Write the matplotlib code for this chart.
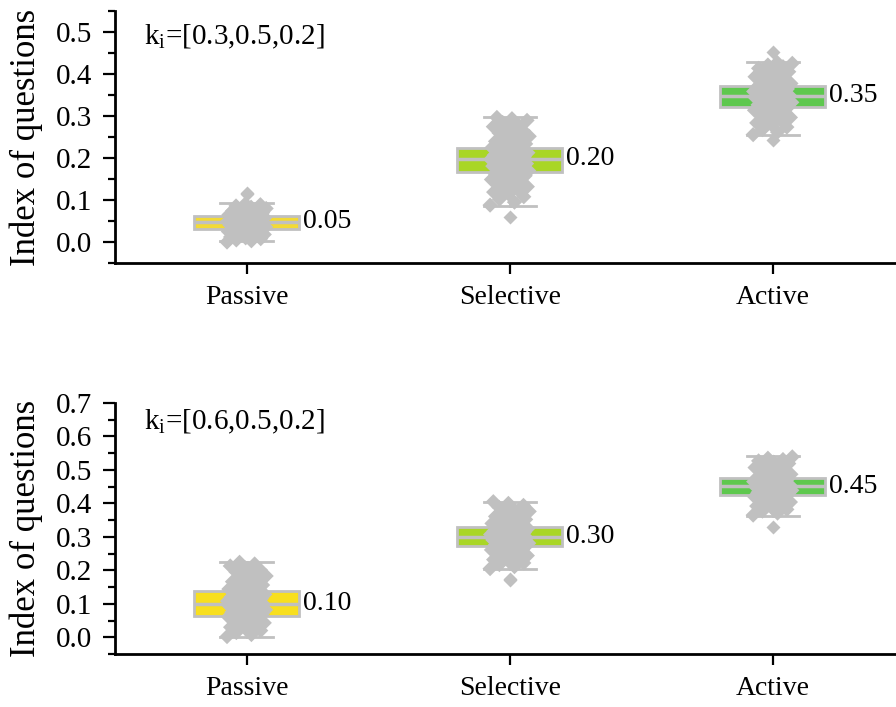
import matplotlib
matplotlib.use('Agg')
import matplotlib.pyplot as plt
import numpy as np
from matplotlib.ticker import MultipleLocator, FormatStrFormatter

plt.rcParams['font.family'] = ['Liberation Serif', 'DejaVu Serif']
plt.rcParams['mathtext.fontset'] = 'custom'
plt.rcParams['mathtext.rm'] = 'Liberation Serif'
plt.rcParams['mathtext.it'] = 'Liberation Serif:italic'

categories = ['Passive', 'Selective', 'Active']
median_labels_top = ['0.05', '0.20', '0.35']
median_labels_bot = ['0.10', '0.30', '0.45']
k_top = 'k$_\\mathregular{i}$=[0.3,0.5,0.2]'
k_bot = 'k$_\\mathregular{i}$=[0.6,0.5,0.2]'

# box statistics: q1, median, q3, lower whisker, upper whisker
q1_top = [0.031, 0.168, 0.322]
med_top = [0.047, 0.197, 0.348]
q3_top = [0.062, 0.225, 0.372]
wlo_top = [0.002, 0.085, 0.254]
whi_top = [0.092, 0.298, 0.429]
fliers_top = [[0.115, 0.118], [0.059], [0.453, 0.244]]

q1_bot = [0.064, 0.273, 0.425]
med_bot = [0.098, 0.300, 0.452]
q3_bot = [0.139, 0.330, 0.476]
wlo_bot = [0.002, 0.204, 0.363]
whi_bot = [0.226, 0.405, 0.541]
fliers_bot = [[], [0.171, 0.175], [0.328]]

# individual questions (grey points)
pts_passive_top = [0.000, 0.003, 0.005, 0.008, 0.010, 0.012, 0.014, 0.016, 0.018, 0.019,
                   0.021, 0.022, 0.024, 0.025, 0.027, 0.028, 0.029, 0.031, 0.032, 0.033,
                   0.034, 0.036, 0.037, 0.038, 0.039, 0.040, 0.041, 0.042, 0.043, 0.044,
                   0.045, 0.046, 0.047, 0.048, 0.049, 0.050, 0.051, 0.052, 0.053, 0.054,
                   0.055, 0.057, 0.058, 0.059, 0.060, 0.062, 0.063, 0.065, 0.066, 0.068,
                   0.070, 0.072, 0.074, 0.076, 0.078, 0.080, 0.083, 0.086, 0.089, 0.091]
pts_selective_top = [0.088, 0.095, 0.102, 0.108, 0.114, 0.119, 0.124, 0.128, 0.132, 0.136,
                     0.140, 0.143, 0.146, 0.149, 0.152, 0.155, 0.158, 0.160, 0.163, 0.165,
                     0.168, 0.170, 0.172, 0.175, 0.177, 0.179, 0.181, 0.183, 0.185, 0.187,
                     0.189, 0.191, 0.193, 0.195, 0.197, 0.199, 0.201, 0.203, 0.205, 0.207,
                     0.209, 0.211, 0.213, 0.216, 0.218, 0.220, 0.223, 0.225, 0.228, 0.231,
                     0.234, 0.237, 0.240, 0.244, 0.248, 0.252, 0.256, 0.260, 0.265, 0.270,
                     0.275, 0.280, 0.285, 0.290, 0.294, 0.297]
pts_active_top = [0.256, 0.262, 0.268, 0.274, 0.279, 0.284, 0.289, 0.293, 0.297, 0.301,
                  0.305, 0.308, 0.311, 0.314, 0.317, 0.320, 0.322, 0.324, 0.327, 0.329,
                  0.331, 0.333, 0.335, 0.337, 0.339, 0.341, 0.343, 0.345, 0.347, 0.349,
                  0.351, 0.353, 0.355, 0.357, 0.359, 0.361, 0.363, 0.365, 0.368, 0.370,
                  0.372, 0.375, 0.378, 0.381, 0.384, 0.387, 0.390, 0.394, 0.398, 0.402,
                  0.406, 0.410, 0.414, 0.418, 0.422, 0.426, 0.428]
pts_passive_bot = [0.002, 0.008, 0.014, 0.020, 0.025, 0.030, 0.035, 0.039, 0.043, 0.047,
                   0.051, 0.055, 0.058, 0.061, 0.064, 0.067, 0.070, 0.072, 0.075, 0.077,
                   0.080, 0.082, 0.084, 0.086, 0.088, 0.090, 0.092, 0.094, 0.096, 0.098,
                   0.100, 0.102, 0.104, 0.106, 0.108, 0.110, 0.112, 0.115, 0.117, 0.120,
                   0.122, 0.125, 0.128, 0.131, 0.134, 0.137, 0.140, 0.144, 0.148, 0.152,
                   0.156, 0.161, 0.166, 0.171, 0.177, 0.183, 0.189, 0.195, 0.201, 0.207,
                   0.213, 0.219, 0.224]
pts_selective_bot = [0.205, 0.211, 0.217, 0.222, 0.227, 0.232, 0.236, 0.240, 0.244, 0.248,
                     0.252, 0.255, 0.258, 0.261, 0.264, 0.267, 0.270, 0.272, 0.275, 0.277,
                     0.279, 0.281, 0.283, 0.285, 0.287, 0.289, 0.291, 0.293, 0.295, 0.297,
                     0.299, 0.301, 0.303, 0.305, 0.307, 0.309, 0.311, 0.313, 0.315, 0.318,
                     0.320, 0.322, 0.325, 0.328, 0.331, 0.334, 0.337, 0.340, 0.344, 0.348,
                     0.352, 0.356, 0.361, 0.366, 0.371, 0.376, 0.382, 0.388, 0.394, 0.400,
                     0.405]
pts_active_bot = [0.365, 0.371, 0.377, 0.382, 0.387, 0.392, 0.396, 0.400, 0.404, 0.408,
                  0.411, 0.414, 0.417, 0.420, 0.423, 0.426, 0.428, 0.431, 0.433, 0.435,
                  0.437, 0.439, 0.441, 0.443, 0.445, 0.447, 0.449, 0.451, 0.453, 0.455,
                  0.457, 0.459, 0.461, 0.463, 0.465, 0.467, 0.470, 0.472, 0.475, 0.478,
                  0.481, 0.484, 0.487, 0.491, 0.495, 0.499, 0.503, 0.507, 0.511, 0.515,
                  0.519, 0.523, 0.527, 0.531, 0.535, 0.539]

points_top = [pts_passive_top, pts_selective_top, pts_active_top]
points_bot = [pts_passive_bot, pts_selective_bot, pts_active_bot]

colors_top = ['#f2da35', '#a9d626', '#5ec84e']
colors_bot = ['#f8df1e', '#a9d626', '#5ec84e']
grey = '#c0c0c0'


def panel(ax, q1, med, q3, wlo, whi, fliers, pts, colors, labels, ktext, ktxt_y, ymax):
    stats = []
    for i in range(len(categories)):
        stats.append(dict(q1=q1[i], med=med[i], q3=q3[i], whislo=wlo[i],
                          whishi=whi[i], fliers=fliers[i], label=categories[i]))
    bp = ax.bxp(stats, positions=range(len(categories)), widths=0.4, capwidths=0.2,
                patch_artist=True, showfliers=True,
                boxprops=dict(edgecolor=grey, linewidth=2),
                medianprops=dict(color=grey, linewidth=2.5),
                whiskerprops=dict(color=grey, linewidth=2),
                capprops=dict(color=grey, linewidth=2),
                flierprops=dict(marker='D', markerfacecolor=grey, markeredgecolor='none',
                                markersize=7))
    for patch, c in zip(bp['boxes'], colors):
        patch.set_facecolor(c)

    phi = 0.6180339887
    for i, vals in enumerate(pts):
        n = len(vals)
        off = ((np.arange(n) * phi) % 1 - 0.5) * 0.15
        ax.scatter(i + off, vals, marker='D', s=60, color=grey, edgecolors='none', zorder=4)

    for i, lab in enumerate(labels):
        ax.text(i + 0.215, float(lab), lab, ha='left', va='center', fontsize=20)

    ax.text(0.038, ktxt_y, ktext, transform=ax.transAxes, fontsize=21, va='center')

    ax.set_xlim(-0.502, 2.468)
    ax.set_ylim(-0.05, ymax)
    ax.set_xticks(range(len(categories)))
    ax.set_xticklabels(categories, fontsize=20)
    ax.yaxis.set_major_locator(MultipleLocator(0.1))
    ax.yaxis.set_minor_locator(MultipleLocator(0.05))
    ax.yaxis.set_major_formatter(FormatStrFormatter('%.1f'))
    ax.tick_params(axis='y', which='major', labelsize=21, length=9, width=1.6, pad=7)
    ax.tick_params(axis='y', which='minor', length=5, width=1.6)
    ax.tick_params(axis='x', length=8, width=1.6, pad=8)
    for s in ['top', 'right']:
        ax.spines[s].set_visible(False)
    for s in ['left', 'bottom']:
        ax.spines[s].set_linewidth(2)
    ax.set_ylabel('Index of questions', fontsize=25)
    ax.yaxis.set_label_coords(-0.092, 0.5)


fig = plt.figure(figsize=(8.96, 7.07), dpi=100)
ax1 = fig.add_axes([0.128, 0.628, 0.872, 0.356])
ax2 = fig.add_axes([0.128, 0.075, 0.872, 0.355])

panel(ax1, q1_top, med_top, q3_top, wlo_top, whi_top, fliers_top, points_top,
      colors_top, median_labels_top, k_top, 0.897, 0.55)
panel(ax2, q1_bot, med_bot, q3_bot, wlo_bot, whi_bot, fliers_bot, points_bot,
      colors_bot, median_labels_bot, k_bot, 0.924, 0.7)

fig.savefig('out.png', dpi=100)
